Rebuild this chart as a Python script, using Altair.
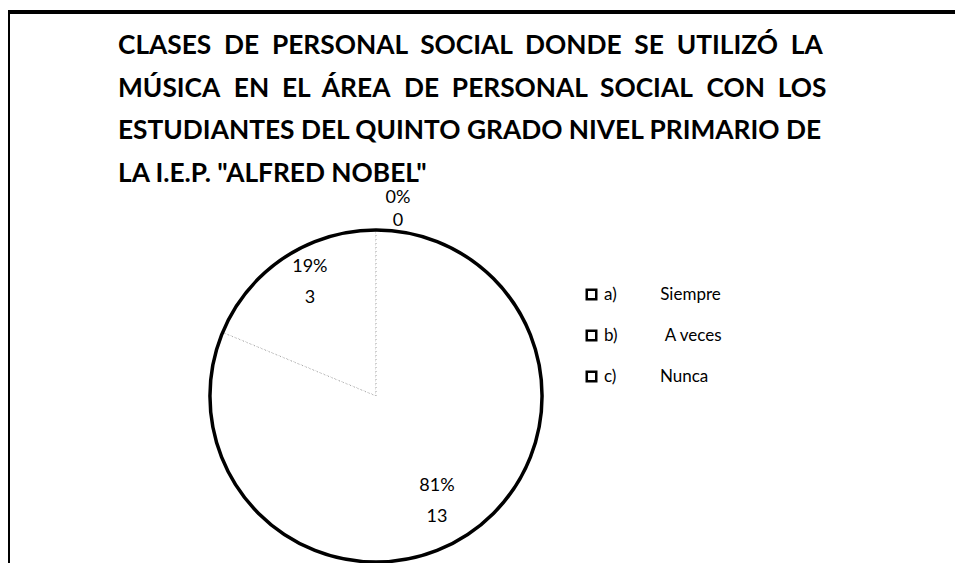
import math
import altair as alt
import pandas as pd

# ---- data ----
letters = ["a)", "b)", "c)"]
categories = ["Siempre", "A veces", "Nunca"]
counts = [0, 3, 13]
draw_order = [2, 1, 0]          # Nunca is drawn first (clockwise from 12 o'clock)
title_lines = [
    "CLASES DE PERSONAL SOCIAL DONDE SE UTILIZÓ LA",
    "MÚSICA EN EL ÁREA DE PERSONAL SOCIAL CON LOS",
    "ESTUDIANTES DEL QUINTO GRADO NIVEL PRIMARIO DE",
    'LA I.E.P. "ALFRED NOBEL"',
]

NB = "\u00a0"
HS = "\u200a"


def widen(line, extras):
    words = line.split(" ")
    out = words[0]
    for i, w in enumerate(words[1:]):
        out += " " + extras[i % len(extras)] + w
    return out


# widen word gaps of the first two lines to imitate the justified title
title_text = "\n".join([
    widen(title_lines[0], [NB]),
    widen(title_lines[1], [NB + HS, NB, NB]),
    title_lines[2],
    title_lines[3],
])

total = sum(counts)
legend_labels = [
    l + NB * 10 + (NB if c == "A veces" else "") + c for l, c in zip(letters, categories)
]
pct = [f"{round(v / total * 100)}%" for v in counts]
df = pd.DataFrame({
    "cat": legend_labels,
    "value": counts,
    "ord": draw_order,
    "label": [p + "\n" + str(v) for p, v in zip(pct, counts)],
})

CX, CY, R = 368, 218, 166
FONT = "Lato"
theta_scale = alt.Scale(domain=[0, total])

slices = alt.Chart(df).mark_arc(
    outerRadius=R, stroke="#9a9a9a", strokeWidth=1, strokeDash=[1, 3]
).encode(
    theta=alt.Theta("value:Q", stack=True, scale=theta_scale),
    order=alt.Order("ord:Q"),
    x=alt.value(CX), y=alt.value(CY),
    color=alt.Color(
        "cat:N",
        scale=alt.Scale(domain=legend_labels, range=["white", "white", "white"]),
        legend=alt.Legend(
            orient="none", legendX=575, legendY=108, title=None,
            symbolType="square", symbolSize=90, symbolStrokeColor="black",
            symbolStrokeWidth=2.5, symbolFillColor="white",
            labelFont=FONT, labelFontSize=17, labelColor="black",
            rowPadding=20, labelOffset=4,
        ),
    ),
)

outline = alt.Chart(pd.DataFrame({"v": [1]})).mark_arc(
    theta=0, theta2=2 * math.pi, outerRadius=R, fillOpacity=0,
    stroke="black", strokeWidth=3.5,
).encode(x=alt.value(CX), y=alt.value(CY))

lab_base = alt.Chart(df).transform_window(
    cum="sum(value)", sort=[alt.SortField("ord", order="ascending")],
    frame=[None, 0],
).transform_calculate(
    mid="datum.cum - datum.value / 2",
    r="datum.value == 0 ? 198 : (datum.value < 5 ? 146 : 108)",
    dx="datum.value == 0 ? 22 : (datum.value < 5 ? 15 : 1)",
    dy="datum.value == 0 ? 0 : (datum.value < 5 ? -8 : 0)",
).encode(
    theta=alt.Theta("mid:Q", stack=False, scale=theta_scale),
    radius=alt.Radius("r:Q", scale=None, stack=False),
    xOffset=alt.XOffset("dx:Q", scale=None),
    yOffset=alt.YOffset("dy:Q", scale=None),
    x=alt.value(CX), y=alt.value(CY),
    text="label:N",
)

labels = lab_base.transform_filter("datum.value > 0").mark_text(
    font=FONT, fontSize=18, lineBreak="\n", lineHeight=31, color="black",
    align="center", baseline="middle",
)
zero_label = lab_base.transform_filter("datum.value == 0").mark_text(
    font=FONT, fontSize=18, lineBreak="\n", lineHeight=23, color="black",
    align="center", baseline="middle",
)

title = alt.Chart(pd.DataFrame({"t": [title_text]})).mark_text(
    font=FONT, fontSize=26.3, fontWeight="bold", color="black",
    align="left", baseline="alphabetic", lineBreak="\n", lineHeight=42.5,
).encode(x=alt.value(110), y=alt.value(-124), text="t:N")

left_rule = alt.Chart(pd.DataFrame({"v": [1]})).mark_rule(
    color="black", strokeWidth=4
).encode(x=alt.value(0), y=alt.value(-166), y2=alt.value(390))

top_rule = alt.Chart(pd.DataFrame({"v": [1]})).mark_rule(
    color="black", strokeWidth=4
).encode(x=alt.value(-2), x2=alt.value(947), y=alt.value(-166))

chart = alt.layer(
    left_rule, top_rule, title, slices, outline, labels, zero_label
).properties(
    width=947, height=385,
    padding={"left": 0, "top": 170, "right": 0, "bottom": 0},
    autosize=alt.AutoSizeParams(type="none"),
    background="white",
).configure_view(stroke="transparent", strokeWidth=0)

chart.save("out.html", embed_options={"renderer": "svg", "actions": False})
